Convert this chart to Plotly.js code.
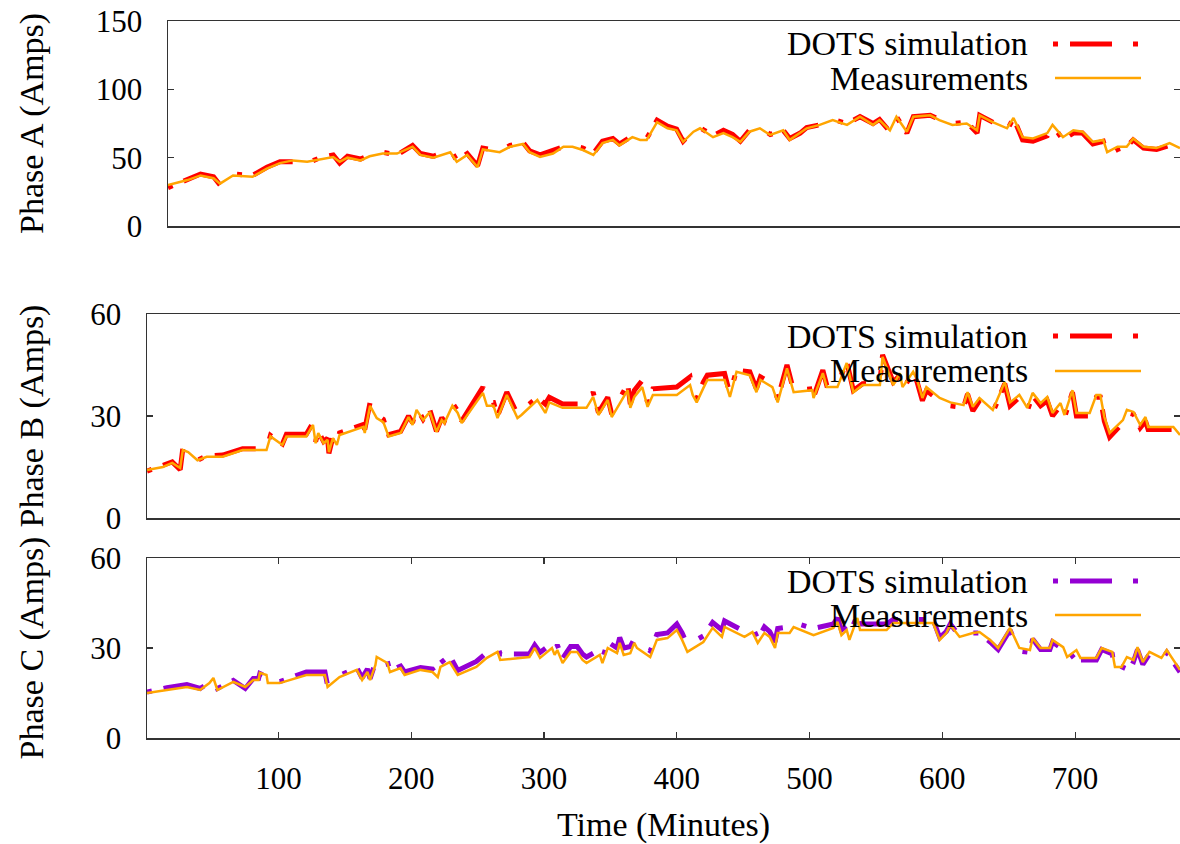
<!DOCTYPE html>
<html>
<head>
<meta charset="utf-8">
<script src="https://cdn.plot.ly/plotly-3.0.1.min.js"></script>
<style>
  html, body { margin: 0; padding: 0; background: #ffffff; }
  #chart { width: 1180px; height: 844px; }
</style>
</head>
<body>
<div id="chart"></div>
<script>
// ---------------- DATA ----------------
const seriesNames = ['DOTS simulation', 'Measurements'];
const panelTitles = ['Phase A (Amps)', 'Phase B (Amps)', 'Phase C (Amps)'];
const xTitle = 'Time (Minutes)';
const xTickVals = [100, 200, 300, 400, 500, 600, 700];

// Phase A
const minutesA = [1, 16, 26, 36, 41, 51, 66, 77, 87, 97, 108, 118, 128, 133, 139, 149, 156, 166, 177, 189,
  195, 205, 218, 223, 231, 239, 243, 256, 264, 274, 279, 287, 297, 305, 312, 320, 328, 335, 343, 348,
  358, 364, 369, 377, 385, 392, 397, 405, 410, 420, 428, 435, 441, 448, 456, 464, 474, 479, 487, 492,
  502, 512, 523, 533, 543, 548, 556, 561, 569, 574, 587, 594, 604, 615, 623, 625, 635, 646, 651, 658,
  666, 677, 681, 689, 697, 704, 712, 720, 723, 731, 738, 743, 751, 761, 771, 779];
const measA = [30, 33.6, 37, 35, 31, 37, 36, 42, 46, 48, 47, 49, 50.5, 47, 50, 48, 51, 53, 53, 58,
  52, 50, 54, 47, 52, 43, 56, 54, 58, 60, 54, 50.5, 53, 58, 58, 55.6, 52, 60.6, 63, 59,
  65, 63, 63, 76, 71.5, 70, 61.6, 69, 71.5, 65, 68, 65, 61.6, 69, 71.5, 66.6, 70, 63, 68, 71.5,
  74, 77.5, 74, 80, 74, 77.5, 70, 80, 69, 80, 81, 77.5, 74, 75, 70, 81, 76, 71.5, 79, 65,
  64, 68, 74, 65, 70, 69, 61.6, 63, 54, 58, 58, 64, 58, 57, 60.6, 57];
const simA = [28, 34, 38, 36, 30, 38, 37, 43, 47, 47, 46, 50, 52, 46, 51, 49, 52, 54, 52, 59,
  53, 51, 56, 48, 53, 44, 57, 55, 59, 61, 55, 52, 55, 58, 59, 57, 53, 62, 64, 60,
  66, 64, 64, 77.5, 73, 71, 62, 70, 72, 66, 70, 67, 62, 70, 72, 67, 70, 64, 68, 72,
  74, 78, 75, 80, 75, 78, 69, 80, 68, 80, 81, 78, 75, 76, 68, 81, 76, 70, 79, 63,
  62, 66, 74, 63, 68, 68, 60, 62, 52, 56, 58, 63, 57, 56, 59, 55];

// Phase B
const minutesB = [1, 13, 20, 26, 28, 32, 39, 46, 58, 73, 91, 94, 103, 106, 121, 126, 128, 130, 134, 137,
  138, 141, 144, 146, 164, 165, 169, 174, 179, 183, 192, 198, 201, 204, 209, 214, 219, 223, 225, 231,
  235, 238, 254, 257, 262, 265, 272, 280, 283, 295, 301, 304, 314, 332, 337, 341, 348, 351, 363, 365,
  368, 374, 378, 382, 400, 410, 412, 415, 420, 423, 436, 440, 445, 455, 460, 463, 472, 476, 483, 488,
  502, 503, 510, 513, 521, 528, 533, 540, 553, 555, 563, 568, 570, 576, 578, 581, 585, 588, 598, 606,
  616, 619, 623, 628, 638, 647, 651, 658, 664, 668, 674, 679, 683, 689, 692, 698, 701, 711, 716, 719,
  722, 726, 732, 736, 739, 744, 749, 753, 755, 774, 779];
const measB = [14.1, 15, 16.2, 14.7, 20, 19.4, 17, 18, 18, 20, 20, 24, 21.5, 24, 24, 27.4, 22, 25, 22, 23,
  19.4, 23.5, 21.5, 24.4, 26.8, 25, 33, 29.4, 28.2, 24, 25, 29.7, 27.4, 31.8, 28.8, 31.2, 25.3, 28.8, 27.9, 33,
  30.9, 27.9, 36.8, 33, 33, 29.4, 36.2, 29.4, 30.3, 34.7, 30.9, 34, 32.4, 32.4, 35.6, 30.3, 34.7, 29.7, 37.6, 32.4,
  35.6, 38.5, 32.7, 36.2, 36.2, 39.1, 36.2, 34, 38.2, 40.6, 40.6, 35.6, 43, 42, 37, 40.6, 38.5, 34, 44, 37,
  37.6, 35.3, 42.6, 38.5, 38.5, 45.6, 37, 39.1, 39.1, 47.4, 39.1, 42.6, 38.5, 42, 43, 40.6, 35.3, 38.5, 35.3, 34,
  33.2, 37, 32.7, 35.3, 31.8, 40, 34, 36.2, 32.4, 36.8, 33.8, 35.6, 30.9, 33.8, 30.3, 37.6, 30.9, 30.9, 36.2, 36.2,
  29.7, 25, 27.4, 28.8, 31.8, 31.2, 27.4, 29.7, 26.8, 26.8, 24.4];
const simB = [13.8, 15.5, 16.5, 14.2, 20.5, 19.8, 17, 18.3, 18.5, 20.4, 20.4, 24.3, 21.8, 24.6, 24.6, 28, 22.5, 25.5, 22.5, 23.5,
  19, 23.8, 21.5, 25, 27.5, 26, 34, 30.5, 29, 24.5, 25.5, 30, 28, 32.5, 29, 31.8, 25.5, 29.5, 28.5, 33.8,
  31.5, 28.5, 38.5, 34, 34, 30, 37, 30.5, 31.5, 35.5, 33.5, 35.5, 33.5, 33.5, 37, 31, 35.5, 30.5, 39.5, 33.5,
  37.5, 40.5, 34, 38, 38.5, 41.5, 37.5, 35, 40, 42, 42.5, 36.5, 43.5, 43, 38, 41.5, 39.5, 35, 45, 37.5,
  38, 35.5, 43.5, 39, 39, 46, 37.5, 39.5, 40, 48, 40, 42, 38, 41.5, 42.5, 40, 34.5, 37.5, 34.5, 33,
  32.5, 36.5, 31.5, 34.5, 31, 39.5, 33, 35.5, 31.5, 36, 33, 34.5, 30, 33, 29.5, 37, 30, 30, 35.5, 35.5,
  28.5, 23.8, 26.5, 28, 31, 30.5, 26.5, 28.5, 26, 26, 24];

// Phase C
const minutesC = [1, 16, 31, 41, 48, 51, 54, 66, 75, 81, 85, 86, 91, 92, 101, 121, 135, 137, 146, 159,
  163, 167, 169, 173, 174, 182, 184, 192, 195, 207, 216, 220, 222, 229, 235, 249, 257, 265, 267, 289,
  293, 297, 306, 308, 310, 314, 320, 325, 329, 332, 342, 344, 348, 355, 357, 360, 365, 368, 370, 380,
  385, 393, 400, 404, 408, 420, 427, 434, 436, 451, 457, 461, 466, 470, 474, 476, 485, 488, 503, 518,
  521, 524, 528, 530, 536, 538, 558, 563, 593, 598, 603, 606, 613, 623, 628, 636, 642, 651, 658, 666,
  668, 674, 681, 683, 691, 694, 701, 704, 716, 720, 728, 730, 735, 739, 744, 747, 751, 756, 765, 769,
  777, 779];
const measC = [15, 16, 17, 16, 18.3, 20, 16, 18.7, 17, 19.3, 19.3, 21.7, 21, 18.3, 18.3, 21, 21, 17, 20.3, 22.7,
  19.3, 22, 19.3, 24.3, 27, 25, 22, 23.3, 21, 22.7, 22, 20.3, 23.7, 25.3, 21, 23.7, 26.7, 28.7, 26, 27,
  30, 26.7, 30, 27.7, 29.3, 25, 28.7, 28.7, 26, 25, 27.7, 25, 30, 28.3, 31.7, 27.7, 28.3, 31.7, 30, 27,
  32.7, 33.3, 36, 32.7, 28.7, 32, 36.7, 33.7, 37, 33.7, 35.3, 31.7, 35, 33.7, 30, 35, 35, 37, 34.3, 36.7,
  38.7, 34.3, 36, 32.7, 40, 36, 36, 38.3, 38.3, 32.7, 35, 37.7, 33.7, 35, 35.3, 32.7, 30, 36.7, 30, 29.3,
  33.3, 30, 30, 32.7, 30.3, 27, 29.3, 26.7, 26.7, 30, 28.7, 23.7, 23.7, 27, 26, 30.3, 25.3, 28.7, 26.7, 29.3,
  23.7, 22.7];
const simC = [15.3, 16.8, 17.8, 16.5, 18.5, 19.5, 16.5, 19.2, 16.5, 19.8, 19.8, 21.5, 20.5, 18.8, 18.8, 22, 22, 17.5, 20.8, 23.5,
  20, 23, 19.8, 25, 26.5, 25.5, 22.5, 24, 22, 23.5, 23, 20.5, 25, 27.5, 22.5, 25.5, 28.5, 30.5, 28, 28,
  31, 28.5, 31.5, 29, 31, 26.5, 30.5, 30.5, 28, 27, 29.5, 26.5, 32, 30, 33.5, 30, 30.5, 33, 32, 29,
  34.5, 35, 38, 35, 31, 34, 38.5, 36, 39, 35.5, 37, 33, 37, 35.5, 32, 36.5, 37, 38.5, 36.5, 38,
  40, 36, 37.5, 34.5, 41, 38, 38, 39.5, 39.5, 33.5, 35.5, 38, 34, 35, 35, 32, 29.5, 36, 29, 28.5,
  33, 29.5, 29.5, 32, 29.5, 26, 28.5, 26, 26, 29.5, 28, 22.5, 22.5, 26.5, 25.5, 29.5, 24.5, 28, 26, 28.5,
  23, 22];

// ---------------- STYLE ----------------
const W = 1180, H = 844;
const RED = '#ff0000', PURPLE = '#9400d3', ORANGE = '#ffa500';
const SIM_DASH = '5px,12px,42px,21px';
const FONT = '"Liberation Serif", "Times New Roman", Times, serif';
const px2x = p => p / W;
const px2y = p => 1 - p / H;

const simColors = [RED, RED, PURPLE];
const xs = [minutesA, minutesB, minutesC];
const meas = [measA, measB, measC];
const sims = [simA, simB, simC];

const traces = [];
for (let i = 0; i < 3; i++) {
  const xa = i === 0 ? 'x' : 'x' + (i + 1);
  const ya = i === 0 ? 'y' : 'y' + (i + 1);
  traces.push({
    type: 'scatter', mode: 'lines', x: xs[i], y: sims[i], xaxis: xa, yaxis: ya,
    name: seriesNames[0], showlegend: false,
    line: { color: simColors[i], width: 5, dash: SIM_DASH }
  });
  traces.push({
    type: 'scatter', mode: 'lines', x: xs[i], y: meas[i], xaxis: xa, yaxis: ya,
    name: seriesNames[1], showlegend: false,
    line: { color: ORANGE, width: 2.5 }
  });
}

const axisLine = { showline: true, linecolor: '#333333', linewidth: 1.5, showgrid: false, zeroline: false };
const tickFont = { family: FONT, size: 31, color: '#000000' };
const titleFont = { family: FONT, size: 34, color: '#000000' };

// panel geometry in pixels: [left, top, bottom]
const panels = [[168, 21, 226], [147, 314, 518], [147, 558, 738]];
const yRanges = [[0, 150], [0, 60], [0, 60]];
const yDticks = [50, 30, 30];
const yStandoffs = [42, 36, 36];

const layout = {
  width: W, height: H,
  margin: { l: 0, r: 0, t: 0, b: 0, pad: 0 },
  paper_bgcolor: '#ffffff', plot_bgcolor: '#ffffff',
  showlegend: false,
  font: { family: FONT, color: '#000000' },
  annotations: [], shapes: []
};

for (let i = 0; i < 3; i++) {
  const [l, t, b] = panels[i];
  const xk = i === 0 ? 'xaxis' : 'xaxis' + (i + 1);
  const yk = i === 0 ? 'yaxis' : 'yaxis' + (i + 1);
  const yref = i === 0 ? 'y' : 'y' + (i + 1);
  const xref = i === 0 ? 'x' : 'x' + (i + 1);
  const isBottom = i === 2;
  layout[xk] = Object.assign({}, axisLine, {
    domain: [px2x(l), 1], anchor: yref, range: [1, 779],
    mirror: isBottom ? 'ticks' : true,
    ticks: isBottom ? 'inside' : '', ticklen: 6, tickcolor: '#333333', tickwidth: 1.2,
    tickvals: xTickVals, showticklabels: isBottom, tickfont: tickFont,
    ticklabelstandoff: 12
  });
  if (isBottom) layout[xk].title = { text: xTitle, font: titleFont, standoff: 24 };
  layout[yk] = Object.assign({}, axisLine, {
    domain: [px2y(b), px2y(t)], anchor: xref, range: yRanges[i],
    mirror: 'ticks', ticks: 'inside', ticklen: 6, tickcolor: '#333333', tickwidth: 1.2,
    dtick: yDticks[i], tick0: 0, tickfont: tickFont, ticklabelstandoff: 18,
    title: { text: panelTitles[i], font: titleFont, standoff: yStandoffs[i] }
  });

  // hand-drawn key (text right-aligned, sample to the right)
  const rowY = [[44, 78], [336, 371], [581, 615]][i];
  const colors = [simColors[i], ORANGE];
  for (let r = 0; r < 2; r++) {
    layout.annotations.push({
      xref: 'paper', yref: 'paper', x: px2x(1030), y: px2y(rowY[r]),
      xanchor: 'right', yanchor: 'middle', showarrow: false,
      text: seriesNames[r], font: titleFont
    });
    layout.shapes.push({
      type: 'line', xref: 'paper', yref: 'paper',
      x0: px2x(r === 0 ? 1053 : 1055), x1: px2x(1141), y0: px2y(rowY[r]), y1: px2y(rowY[r]),
      line: { color: colors[r], width: r === 0 ? 5 : 2.5, dash: r === 0 ? SIM_DASH : 'solid' }
    });
  }
}

Plotly.newPlot('chart', traces, layout, { staticPlot: true, displayModeBar: false });
</script>
</body>
</html>
